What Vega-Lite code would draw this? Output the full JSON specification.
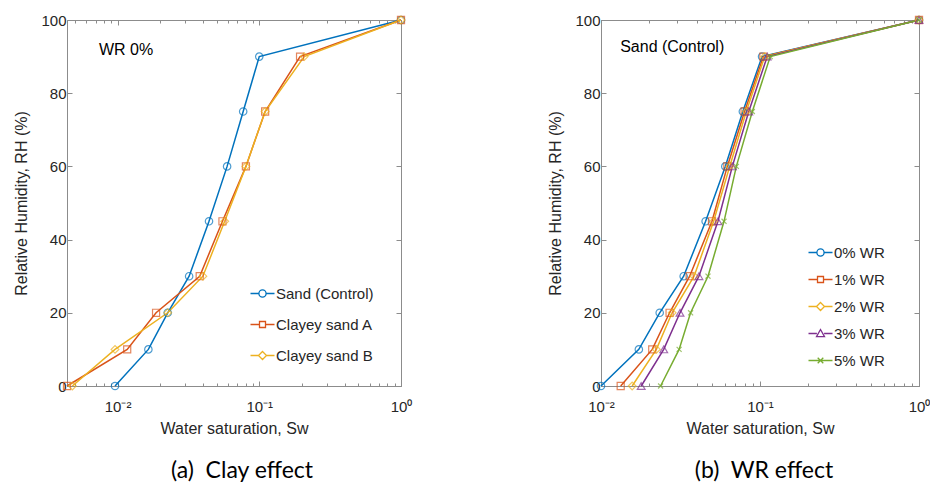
{
  "$schema": "https://vega.github.io/schema/vega-lite/v6.json",
  "background": "white",
  "padding": {"left": 13, "top": 12, "right": 5, "bottom": 5},
  "config": {
    "view": {"stroke": "#8c8c8c", "strokeWidth": 1},
    "axis": {
      "grid": false,
      "labelFont": "Liberation Sans",
      "labelFontSize": 15,
      "labelColor": "#262626",
      "titleFont": "Liberation Sans",
      "titleFontSize": 16,
      "titleFontWeight": "normal",
      "titleColor": "#262626",
      "domainColor": "#8c8c8c",
      "tickColor": "#8c8c8c",
      "labelOverlap": false,
      "labelFlush": false
    },
    "legend": {
      "labelFont": "Liberation Sans",
      "labelFontSize": 15,
      "labelColor": "#262626",
      "symbolSize": 64,
      "padding": 0,
      "symbolStrokeWidth": 1.3
    },
    "title": {"font": "Lato", "fontSize": 23, "fontWeight": "normal", "color": "#000000"}
  },
  "resolve": {
    "scale": {"color": "independent", "shape": "independent", "x": "independent", "y": "independent"},
    "legend": {"color": "independent", "shape": "independent"}
  },
  "datasets": {
    "clay": [
      {"series": "Sand (Control)", "sw": 0.0096, "rh": 0},
      {"series": "Sand (Control)", "sw": 0.0165, "rh": 10},
      {"series": "Sand (Control)", "sw": 0.0226, "rh": 20},
      {"series": "Sand (Control)", "sw": 0.032, "rh": 30},
      {"series": "Sand (Control)", "sw": 0.0442, "rh": 45},
      {"series": "Sand (Control)", "sw": 0.0593, "rh": 60},
      {"series": "Sand (Control)", "sw": 0.077, "rh": 75},
      {"series": "Sand (Control)", "sw": 0.1, "rh": 90},
      {"series": "Sand (Control)", "sw": 1, "rh": 100},
      {"series": "Clayey sand A", "sw": 0.0044, "rh": 0},
      {"series": "Clayey sand A", "sw": 0.0117, "rh": 10},
      {"series": "Clayey sand A", "sw": 0.0187, "rh": 20},
      {"series": "Clayey sand A", "sw": 0.038, "rh": 30},
      {"series": "Clayey sand A", "sw": 0.055, "rh": 45},
      {"series": "Clayey sand A", "sw": 0.0805, "rh": 60},
      {"series": "Clayey sand A", "sw": 0.11, "rh": 75},
      {"series": "Clayey sand A", "sw": 0.194, "rh": 90},
      {"series": "Clayey sand A", "sw": 1, "rh": 100},
      {"series": "Clayey sand B", "sw": 0.0048, "rh": 0},
      {"series": "Clayey sand B", "sw": 0.0096, "rh": 10},
      {"series": "Clayey sand B", "sw": 0.0226, "rh": 20},
      {"series": "Clayey sand B", "sw": 0.04, "rh": 30},
      {"series": "Clayey sand B", "sw": 0.057, "rh": 45},
      {"series": "Clayey sand B", "sw": 0.0805, "rh": 60},
      {"series": "Clayey sand B", "sw": 0.11, "rh": 75},
      {"series": "Clayey sand B", "sw": 0.2075, "rh": 90},
      {"series": "Clayey sand B", "sw": 1, "rh": 100}
    ],
    "wr": [
      {"series": "0% WR", "sw": 0.01, "rh": 0},
      {"series": "0% WR", "sw": 0.0173, "rh": 10},
      {"series": "0% WR", "sw": 0.0234, "rh": 20},
      {"series": "0% WR", "sw": 0.0331, "rh": 30},
      {"series": "0% WR", "sw": 0.0455, "rh": 45},
      {"series": "0% WR", "sw": 0.0605, "rh": 60},
      {"series": "0% WR", "sw": 0.078, "rh": 75},
      {"series": "0% WR", "sw": 0.103, "rh": 90},
      {"series": "0% WR", "sw": 1, "rh": 100},
      {"series": "1% WR", "sw": 0.0133, "rh": 0},
      {"series": "1% WR", "sw": 0.021, "rh": 10},
      {"series": "1% WR", "sw": 0.027, "rh": 20},
      {"series": "1% WR", "sw": 0.0361, "rh": 30},
      {"series": "1% WR", "sw": 0.0499, "rh": 45},
      {"series": "1% WR", "sw": 0.0623, "rh": 60},
      {"series": "1% WR", "sw": 0.08, "rh": 75},
      {"series": "1% WR", "sw": 0.105, "rh": 90},
      {"series": "1% WR", "sw": 1, "rh": 100},
      {"series": "2% WR", "sw": 0.0157, "rh": 0},
      {"series": "2% WR", "sw": 0.0223, "rh": 10},
      {"series": "2% WR", "sw": 0.028, "rh": 20},
      {"series": "2% WR", "sw": 0.0385, "rh": 30},
      {"series": "2% WR", "sw": 0.0511, "rh": 45},
      {"series": "2% WR", "sw": 0.0645, "rh": 60},
      {"series": "2% WR", "sw": 0.082, "rh": 75},
      {"series": "2% WR", "sw": 0.107, "rh": 90},
      {"series": "2% WR", "sw": 1, "rh": 100},
      {"series": "3% WR", "sw": 0.0179, "rh": 0},
      {"series": "3% WR", "sw": 0.0248, "rh": 10},
      {"series": "3% WR", "sw": 0.0314, "rh": 20},
      {"series": "3% WR", "sw": 0.0413, "rh": 30},
      {"series": "3% WR", "sw": 0.0544, "rh": 45},
      {"series": "3% WR", "sw": 0.067, "rh": 60},
      {"series": "3% WR", "sw": 0.085, "rh": 75},
      {"series": "3% WR", "sw": 0.111, "rh": 90},
      {"series": "3% WR", "sw": 1, "rh": 100},
      {"series": "5% WR", "sw": 0.0237, "rh": 0},
      {"series": "5% WR", "sw": 0.031, "rh": 10},
      {"series": "5% WR", "sw": 0.0366, "rh": 20},
      {"series": "5% WR", "sw": 0.0471, "rh": 30},
      {"series": "5% WR", "sw": 0.0594, "rh": 45},
      {"series": "5% WR", "sw": 0.071, "rh": 60},
      {"series": "5% WR", "sw": 0.0895, "rh": 75},
      {"series": "5% WR", "sw": 0.116, "rh": 90},
      {"series": "5% WR", "sw": 1, "rh": 100}
    ]
  },
  "hconcat": [
    {
      "title": {"text": "(a)\u00a0 Clay effect", "orient": "bottom", "anchor": "middle", "offset": 24, "dx": 8},
      "width": 334,
      "height": 366,
      "resolve": {"axis": {"x": "independent", "y": "independent"}},
      "layer": [
        {
          "data": {"name": "clay"},
          "mark": {"type": "line", "strokeWidth": 1.5},
          "encoding": {
            "x": {
              "field": "sw", "type": "quantitative",
              "scale": {"type": "log", "domain": [0.0044, 1], "nice": false},
              "axis": {
                "orient": "bottom",
                "title": "Water saturation, Sw",
                "values": [0.005, 0.006, 0.007, 0.008, 0.009, 0.01, 0.02, 0.03, 0.04, 0.05, 0.06, 0.07, 0.08, 0.09, 0.1, 0.2, 0.3, 0.4, 0.5, 0.6, 0.7, 0.8, 0.9, 1],
                "labelExpr": "datum.value == 0.01 ? '10⁻²' : datum.value == 0.1 ? '10⁻¹' : datum.value == 1 ? '10⁰' : ''",
                "tickSize": {"condition": {"test": "datum.value == 0.01 || datum.value == 0.1 || datum.value == 1", "value": -5}, "value": -3},
                "labelPadding": 18,
                "titlePadding": 4
              }
            },
            "y": {
              "field": "rh", "type": "quantitative",
              "scale": {"domain": [0, 100], "nice": false},
              "axis": {"orient": "left", "title": "Relative Humidity, RH (%)", "values": [0, 20, 40, 60, 80, 100], "tickSize": -5, "labelPadding": 6, "titlePadding": 11}
            },
            "color": {
              "field": "series", "type": "nominal",
              "scale": {"domain": ["Sand (Control)", "Clayey sand A", "Clayey sand B"], "range": ["#0072BD", "#D95319", "#EDB120"]},
              "legend": {"title": null, "orient": "none", "legendX": 180, "legendY": 266, "symbolOffset": 8, "labelOffset": 6, "rowPadding": 15}
            },
            "order": {"field": "rh", "type": "quantitative"}
          }
        },
        {
          "data": {"name": "clay"},
          "transform": [{"filter": "datum.series === 'Sand (Control)'"}],
          "mark": {"type": "point", "shape": "circle", "filled": false, "size": 55, "strokeWidth": 1.2},
          "encoding": {
            "x": {
              "field": "sw", "type": "quantitative",
              "axis": {
                "orient": "top", "title": null, "labels": false,
                "values": [0.005, 0.006, 0.007, 0.008, 0.009, 0.01, 0.02, 0.03, 0.04, 0.05, 0.06, 0.07, 0.08, 0.09, 0.1, 0.2, 0.3, 0.4, 0.5, 0.6, 0.7, 0.8, 0.9, 1],
                "tickSize": {"condition": {"test": "datum.value == 0.01 || datum.value == 0.1 || datum.value == 1", "value": -5}, "value": -3}
              }
            },
            "y": {
              "field": "rh", "type": "quantitative",
              "axis": {"orient": "right", "title": null, "labels": false, "values": [0, 20, 40, 60, 80, 100], "tickSize": -5}
            },
            "color": {"field": "series", "type": "nominal", "legend": null}
          }
        },
        {
          "data": {"name": "clay"},
          "transform": [{"filter": "datum.series === 'Clayey sand A'"}],
          "mark": {"type": "point", "shape": "square", "filled": false, "size": 50, "strokeWidth": 1.2},
          "encoding": {
            "x": {"field": "sw", "type": "quantitative", "axis": null},
            "y": {"field": "rh", "type": "quantitative", "axis": null},
            "color": {"field": "series", "type": "nominal", "legend": null}
          }
        },
        {
          "data": {"name": "clay"},
          "transform": [{"filter": "datum.series === 'Clayey sand B'"}],
          "mark": {"type": "point", "shape": "diamond", "filled": false, "size": 60, "strokeWidth": 1.2},
          "encoding": {
            "x": {"field": "sw", "type": "quantitative", "axis": null},
            "y": {"field": "rh", "type": "quantitative", "axis": null},
            "color": {"field": "series", "type": "nominal", "legend": null}
          }
        },
        {
          "data": {"name": "clay"},
          "mark": {"type": "point", "filled": false, "size": 0},
          "encoding": {
            "x": {"field": "sw", "type": "quantitative", "axis": null},
            "y": {"field": "rh", "type": "quantitative", "axis": null},
            "color": {"field": "series", "type": "nominal", "legend": null},
            "shape": {
              "field": "series", "type": "nominal", "legend": null,
              "scale": {
                "domain": ["Sand (Control)", "Clayey sand A", "Clayey sand B"],
                "range": [
                  "M-3,0H-0.9M0.9,0H3M0.9,0A0.9,0.9,0,1,1,-0.9,0A0.9,0.9,0,1,1,0.9,0",
                  "M-3,0H-0.75M0.75,0H3M-0.75,-0.75H0.75V0.75H-0.75Z",
                  "M-3,0H-1M1,0H3M0,-1L1,0L0,1L-1,0Z"
                ]
              }
            }
          }
        },
        {
          "data": {"values": [{"note": "WR 0%", "sw": 0.0074, "rh": 91.8}]},
          "mark": {"type": "text", "align": "left", "baseline": "middle", "font": "Liberation Sans", "fontSize": 16, "color": "#000000"},
          "encoding": {
            "x": {"field": "sw", "type": "quantitative", "axis": null},
            "y": {"field": "rh", "type": "quantitative", "axis": null},
            "text": {"field": "note"}
          }
        }
      ]
    },
    {
      "title": {"text": "(b)\u00a0 WR effect", "orient": "bottom", "anchor": "middle", "offset": 24, "dx": 4},
      "width": 318,
      "height": 366,
      "resolve": {"axis": {"x": "independent", "y": "independent"}},
      "layer": [
        {
          "data": {"name": "wr"},
          "mark": {"type": "line", "strokeWidth": 1.5},
          "encoding": {
            "x": {
              "field": "sw", "type": "quantitative",
              "scale": {"type": "log", "domain": [0.01, 1], "nice": false},
              "axis": {
                "orient": "bottom",
                "title": "Water saturation, Sw",
                "values": [0.01, 0.02, 0.03, 0.04, 0.05, 0.06, 0.07, 0.08, 0.09, 0.1, 0.2, 0.3, 0.4, 0.5, 0.6, 0.7, 0.8, 0.9, 1],
                "labelExpr": "datum.value == 0.01 ? '10⁻²' : datum.value == 0.1 ? '10⁻¹' : datum.value == 1 ? '10⁰' : ''",
                "tickSize": {"condition": {"test": "datum.value == 0.01 || datum.value == 0.1 || datum.value == 1", "value": -5}, "value": -3},
                "labelPadding": 18,
                "titlePadding": 4
              }
            },
            "y": {
              "field": "rh", "type": "quantitative",
              "scale": {"domain": [0, 100], "nice": false},
              "axis": {"orient": "left", "title": "Relative Humidity, RH (%)", "values": [0, 20, 40, 60, 80, 100], "tickSize": -5, "labelPadding": 6, "titlePadding": 11}
            },
            "color": {
              "field": "series", "type": "nominal",
              "scale": {"domain": ["0% WR", "1% WR", "2% WR", "3% WR", "5% WR"], "range": ["#0072BD", "#D95319", "#EDB120", "#7E2F8E", "#77AC30"]},
              "legend": {"title": null, "orient": "none", "legendX": 204, "legendY": 225, "symbolOffset": 8, "labelOffset": 6, "rowPadding": 11}
            },
            "order": {"field": "rh", "type": "quantitative"}
          }
        },
        {
          "data": {"name": "wr"},
          "transform": [{"filter": "datum.series === '0% WR'"}],
          "mark": {"type": "point", "shape": "circle", "filled": false, "size": 55, "strokeWidth": 1.2},
          "encoding": {
            "x": {
              "field": "sw", "type": "quantitative",
              "axis": {
                "orient": "top", "title": null, "labels": false,
                "values": [0.01, 0.02, 0.03, 0.04, 0.05, 0.06, 0.07, 0.08, 0.09, 0.1, 0.2, 0.3, 0.4, 0.5, 0.6, 0.7, 0.8, 0.9, 1],
                "tickSize": {"condition": {"test": "datum.value == 0.01 || datum.value == 0.1 || datum.value == 1", "value": -5}, "value": -3}
              }
            },
            "y": {
              "field": "rh", "type": "quantitative",
              "axis": {"orient": "right", "title": null, "labels": false, "values": [0, 20, 40, 60, 80, 100], "tickSize": -5}
            },
            "color": {"field": "series", "type": "nominal", "legend": null}
          }
        },
        {
          "data": {"name": "wr"},
          "transform": [{"filter": "datum.series === '1% WR'"}],
          "mark": {"type": "point", "shape": "square", "filled": false, "size": 50, "strokeWidth": 1.2},
          "encoding": {
            "x": {"field": "sw", "type": "quantitative", "axis": null},
            "y": {"field": "rh", "type": "quantitative", "axis": null},
            "color": {"field": "series", "type": "nominal", "legend": null}
          }
        },
        {
          "data": {"name": "wr"},
          "transform": [{"filter": "datum.series === '2% WR'"}],
          "mark": {"type": "point", "shape": "diamond", "filled": false, "size": 60, "strokeWidth": 1.2},
          "encoding": {
            "x": {"field": "sw", "type": "quantitative", "axis": null},
            "y": {"field": "rh", "type": "quantitative", "axis": null},
            "color": {"field": "series", "type": "nominal", "legend": null}
          }
        },
        {
          "data": {"name": "wr"},
          "transform": [{"filter": "datum.series === '3% WR'"}],
          "mark": {"type": "point", "shape": "triangle-up", "filled": false, "size": 60, "strokeWidth": 1.2},
          "encoding": {
            "x": {"field": "sw", "type": "quantitative", "axis": null},
            "y": {"field": "rh", "type": "quantitative", "axis": null},
            "color": {"field": "series", "type": "nominal", "legend": null}
          }
        },
        {
          "data": {"name": "wr"},
          "transform": [{"filter": "datum.series === '5% WR'"}],
          "mark": {"type": "point", "shape": "M-0.75,-0.75L0.75,0.75M-0.75,0.75L0.75,-0.75", "filled": false, "size": 45, "strokeWidth": 1.2},
          "encoding": {
            "x": {"field": "sw", "type": "quantitative", "axis": null},
            "y": {"field": "rh", "type": "quantitative", "axis": null},
            "color": {"field": "series", "type": "nominal", "legend": null}
          }
        },
        {
          "data": {"name": "wr"},
          "mark": {"type": "point", "filled": false, "size": 0},
          "encoding": {
            "x": {"field": "sw", "type": "quantitative", "axis": null},
            "y": {"field": "rh", "type": "quantitative", "axis": null},
            "color": {"field": "series", "type": "nominal", "legend": null},
            "shape": {
              "field": "series", "type": "nominal", "legend": null,
              "scale": {
                "domain": ["0% WR", "1% WR", "2% WR", "3% WR", "5% WR"],
                "range": [
                  "M-3,0H-0.9M0.9,0H3M0.9,0A0.9,0.9,0,1,1,-0.9,0A0.9,0.9,0,1,1,0.9,0",
                  "M-3,0H-0.75M0.75,0H3M-0.75,-0.75H0.75V0.75H-0.75Z",
                  "M-3,0H-1M1,0H3M0,-1L1,0L0,1L-1,0Z",
                  "M-3,0H-0.9M0.9,0H3M0,-1L1,0.8H-1Z",
                  "M-3,0H3M-0.7,-0.7L0.7,0.7M-0.7,0.7L0.7,-0.7"
                ]
              }
            }
          }
        },
        {
          "data": {"values": [{"note": "Sand (Control)", "sw": 0.0132, "rh": 92.6}]},
          "mark": {"type": "text", "align": "left", "baseline": "middle", "font": "Liberation Sans", "fontSize": 16, "color": "#000000"},
          "encoding": {
            "x": {"field": "sw", "type": "quantitative", "axis": null},
            "y": {"field": "rh", "type": "quantitative", "axis": null},
            "text": {"field": "note"}
          }
        }
      ]
    }
  ],
  "spacing": 200,
  "bounds": "flush"
}
